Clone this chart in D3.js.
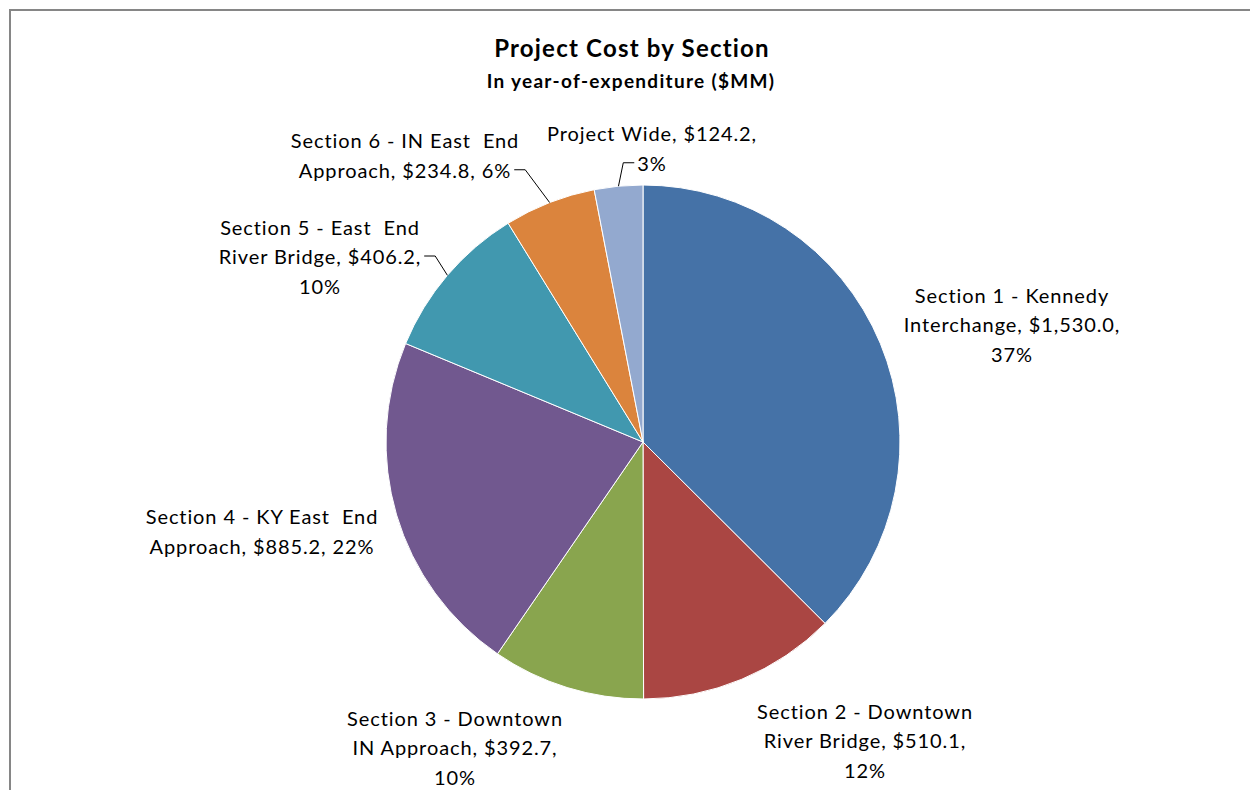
<!DOCTYPE html>
<html>
<head>
<meta charset="utf-8">
<script src="https://cdn.jsdelivr.net/npm/d3@7"></script>
<style>
  html, body { margin: 0; padding: 0; background: #fff; }
  svg text { font-family: Lato, "Open Sans", sans-serif; fill: #000; }
</style>
</head>
<body>
<svg id="chart" width="1250" height="790"></svg>
<script>
"use strict";

// slice names, one label line per entry
const sections = [
  [ 'Section 1 - Kennedy', 'Interchange,' ],
  [ 'Section 2 - Downtown', 'River Bridge,' ],
  [ 'Section 3 - Downtown', 'IN Approach,' ],
  [ 'Section 4 - KY East  End', 'Approach,' ],
  [ 'Section 5 - East  End', 'River Bridge,' ],
  [ 'Section 6 - IN East  End', 'Approach,' ],
  [ 'Project Wide,' ],
];

// cost in $MM (year-of-expenditure)
const costs = [ 1530.0, 510.1, 392.7, 885.2, 406.2, 234.8, 124.2 ];

// Excel 2007 default palette
const colors = [ '#4572A7', '#AA4643', '#89A54E', '#71588F', '#4198AF', '#DB843D', '#93A9CF' ];

// label layout: centre offset from pie centre, how the text wraps, leader side
const labelLayout = [
  { dx:  369, dy: -118, wrap: 'three' },
  { dx:  222, dy:  298, wrap: 'three' },
  { dx: -188, dy:  305, wrap: 'three' },
  { dx: -381, dy:   89, wrap: 'two'   },
  { dx: -323, dy: -186, wrap: 'three', leader: 'right', line: 1 },
  { dx: -238, dy: -287, wrap: 'two',   leader: 'right', line: 1 },
  { dx:    9, dy: -294, wrap: 'split', leader: 'left',  line: 1 },
];

const width = 1250, height = 790;
const cx = 643, cy = 442, radius = 257;
const lineH = 29.5;

const svg = d3.select( '#chart' );

// outer frame (right and bottom edges run off the picture)
svg.append( 'rect' )
    .attr( 'x', 10 ).attr( 'y', 10 )
    .attr( 'width', width ).attr( 'height', height )
    .attr( 'fill', 'none' )
    .attr( 'stroke', '#868686' )
    .attr( 'stroke-width', 2 );

// titles
svg.append( 'text' )
    .attr( 'x', 632 ).attr( 'y', 47 )
    .attr( 'text-anchor', 'middle' )
    .attr( 'dominant-baseline', 'central' )
    .style( 'font-weight', 'bold' )
    .style( 'font-size', '24px' )
    .style( 'letter-spacing', '1.2px' )
    .text( 'Project Cost by Section' );
svg.append( 'text' )
    .attr( 'x', 631 ).attr( 'y', 80 )
    .attr( 'text-anchor', 'middle' )
    .attr( 'dominant-baseline', 'central' )
    .style( 'font-weight', 'bold' )
    .style( 'font-size', '19px' )
    .style( 'letter-spacing', '1.3px' )
    .text( 'In year-of-expenditure ($MM)' );

const total = d3.sum( costs );
const fmtMoney = d3.format( '$,.1f' );
const fmtPct = d3.format( '.0%' );

const pie = d3.pie().sort( null ).value( d => d );
const arcs = pie( costs );
const arc = d3.arc().innerRadius( 0 ).outerRadius( radius );

const g = svg.append( 'g' ).attr( 'transform', `translate(${cx},${cy})` );

g.selectAll( 'path.slice' )
  .data( arcs )
  .enter().append( 'path' )
    .attr( 'class', 'slice' )
    .attr( 'd', arc )
    .attr( 'fill', (d,i) => colors[i] )
    .attr( 'stroke', '#fff' )
    .attr( 'stroke-width', 1 );

// build the label lines for each slice
function labelLines( i ){
  const name = sections[i], v = fmtMoney( costs[i] ) + ',', p = fmtPct( costs[i] / total );
  const wrap = labelLayout[i].wrap;
  if( wrap === 'three' ) return [ name[0], name[1] + ' ' + v, p ];
  if( wrap === 'two' )   return [ name[0], name[1] + ' ' + v + ' ' + p ];
  return [ name[0] + ' ' + v, p ];
}

const labels = g.append( 'g' ).attr( 'class', 'labels' );
const leaders = g.append( 'g' ).attr( 'class', 'leaders' );

arcs.forEach( (a,i) => {
  const lay = labelLayout[i];
  const lines = labelLines( i );
  const y0 = lay.dy - (lines.length - 1) * lineH / 2;
  const t = labels.append( 'text' )
              .attr( 'text-anchor', 'middle' )
              .style( 'font-size', '20px' )
              .style( 'letter-spacing', '0.9px' )
              .style( 'white-space', 'pre' );
  const spans = lines.map( (l,k) => t.append( 'tspan' )
                    .attr( 'x', lay.dx )
                    .attr( 'y', y0 + k * lineH )
                    .attr( 'dominant-baseline', 'central' )
                    .text( l ) );

  if( lay.leader ){
    const w = spans[ lay.line ].node().getComputedTextLength();
    const ly = y0 + lay.line * lineH;
    const sign = lay.leader === 'right' ? 1 : -1;
    const ax = lay.dx + sign * (w / 2 + 3);
    const bx = ax + sign * 11;
    const mid = (a.startAngle + a.endAngle) / 2;
    const ex = radius * Math.sin( mid ), ey = -radius * Math.cos( mid );
    leaders.append( 'path' )
        .attr( 'd', d3.line()( [ [ax, ly], [bx, ly], [ex, ey] ] ) )
        .attr( 'fill', 'none' )
        .attr( 'stroke', '#000' )
        .attr( 'stroke-width', 1 );
  }
});
</script>
</body>
</html>
